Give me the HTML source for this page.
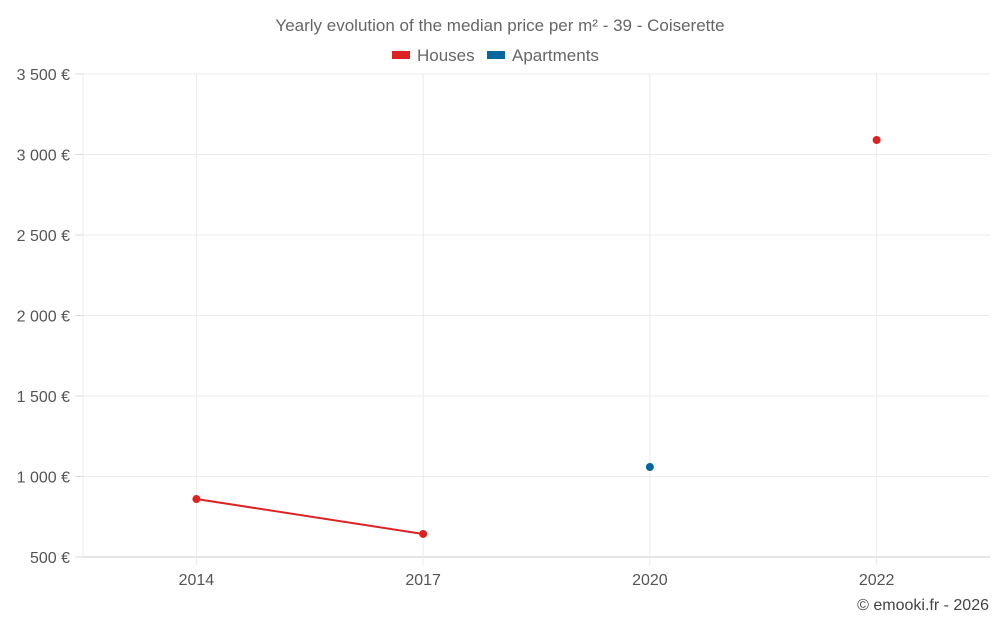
<!DOCTYPE html>
<html><head><meta charset="utf-8"><style>
html,body{margin:0;padding:0;background:#fff;}
svg{display:block;font-family:"Liberation Sans",sans-serif;}
</style></head><body>
<svg id="chart" width="1000" height="625" viewBox="0 0 1000 625">
<text x="500" y="31" text-anchor="middle" font-size="17" fill="#666">Yearly evolution of the median price per m² - 39 - Coiserette</text>
<g>
<g><rect x="392" y="51" width="18" height="8" fill="#dd2222"/><text x="417" y="61" font-size="17" fill="#666">Houses</text></g>
<g><rect x="487" y="51" width="18" height="8" fill="#06679f"/><text x="512" y="61" font-size="17" fill="#666">Apartments</text></g>
</g>
<g id="grid"></g>
<g id="axes"></g>
<g id="series"></g>
<text x="989" y="610" text-anchor="end" font-size="16" fill="#444">© emooki.fr - 2026</text>
</svg>
<script>
const categories = ["2014","2017","2020","2022"];
const houses = [860, 643, null, 3090];
const apartments = [null, null, 1059, null];
const yTicks = [500,1000,1500,2000,2500,3000,3500];
const yTickLabels = ["500 €","1 000 €","1 500 €","2 000 €","2 500 €","3 000 €","3 500 €"];

const NS="http://www.w3.org/2000/svg";
const L=83,R=990,T=74,B=557,yMin=500,yMax=3500;
const bw=(R-L)/categories.length;
function xPos(i){return L+bw*(i+0.5);}
function yPos(v){return B-(v-yMin)/(yMax-yMin)*(B-T);}
function mk(tag,attrs,parent){const e=document.createElementNS(NS,tag);for(const k in attrs)e.setAttribute(k,attrs[k]);parent.appendChild(e);return e;}
const grid=document.getElementById('grid'),axes=document.getElementById('axes'),ser=document.getElementById('series');
yTicks.forEach((v,i)=>{
  const y=yPos(v);
  const g=mk('line',{x1:L,x2:R,y1:y,y2:y,stroke:v===yMin?'#ccc':'#ebebeb','stroke-width':1},grid);
  
  
  const tk=mk('line',{x1:75,x2:L,y1:y,y2:y,stroke:'#ddd'},axes);
  
  
  const t=mk('text',{x:70,y:y+6,'text-anchor':'end','font-size':16,fill:'#555'},axes);
  t.textContent=yTickLabels[i];
  
  
});
const la=mk('line',{x1:L,x2:L,y1:T,y2:B,stroke:'#ebebeb'},grid);


categories.forEach((c,i)=>{
  const x=xPos(i);
  const g=mk('line',{x1:x,x2:x,y1:T,y2:B+8,stroke:'#ebebeb'},grid);
  
  
  const t=mk('text',{x:x,y:585,'text-anchor':'middle','font-size':16,fill:'#555'},axes);
  t.textContent=c;
  
  
});
function drawSeries(vals,color,name){
  for(let i=0;i<vals.length-1;i++){
    if(vals[i]!=null&&vals[i+1]!=null){
      const l=mk('line',{x1:xPos(i),y1:yPos(vals[i]),x2:xPos(i+1),y2:yPos(vals[i+1]),stroke:color,'stroke-width':2},ser);
      
      
    }
  }
  vals.forEach((v,i)=>{
    if(v==null)return;
    const p=mk('circle',{cx:xPos(i),cy:yPos(v),r:4,fill:color},ser);
    
    
  });
}
drawSeries(houses,'#dd2222','houses');
drawSeries(apartments,'#06679f','apartments');
</script>
</body></html>
